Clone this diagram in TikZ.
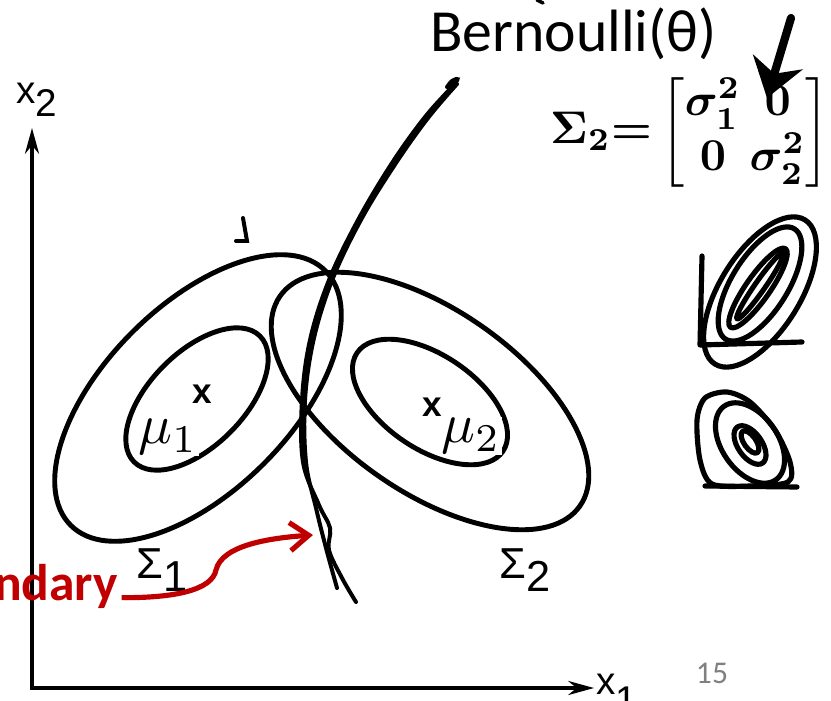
\documentclass[tikz,border=0pt]{standalone}
\usepackage{amsmath}
\usepackage{graphicx}
\usepackage{fontspec}
\setsansfont{Liberation Sans}
\newfontfamily\calibri{Carlito}
\usetikzlibrary{positioning, arrows.meta}
\definecolor{boundred}{HTML}{C00000}

\begin{document}
\begin{tikzpicture}[x=0.3mm, y=-0.3mm,
    contour/.style={line width=4.2pt},
    bound/.style={line width=3.4pt, line cap=round},
    doodle/.style={line width=4.4pt, line cap=round, line join=round},
    axis/.style={line width=2.8pt, -{Stealth[length=22pt, width=12pt]}},
    mean/.style={fill=white, inner sep=1pt},
    cross/.style={font=\fontsize{30}{30}\selectfont\sffamily\bfseries, inner sep=0pt},
    axlabel/.style={font=\fontsize{33}{33}\selectfont\sffamily, inner sep=0pt},
    covlabel/.style={font=\fontsize{37}{37}\selectfont\sffamily, inner sep=0pt}
]
\useasboundingbox (0,0) rectangle (831,700);

\coordinate (O) at (32,688);
\coordinate (xend) at (594,688);
\coordinate (yend) at (32,128);
\draw[axis] (O) -- (xend);
\draw[axis] ([yshift=-1.4pt]O) -- (yend);
\node[axlabel, anchor=base west] (xone) at (596,694) {x\raisebox{-0.5em}{1}};
\node[axlabel, anchor=base west] (xtwo) at (16,104) {x\raisebox{-0.32em}{2}};

\draw[contour] (198,398) ellipse [x radius=54mm, y radius=27.9mm, rotate=45];
\draw[contour] (197,399) ellipse [x radius=26.7mm, y radius=14.1mm, rotate=45];
\draw[contour] (430,401) ellipse [x radius=54.9mm, y radius=27.3mm, rotate=-35];
\draw[contour] (430,402) ellipse [x radius=26.4mm, y radius=14.1mm, rotate=-34];

\node[cross] (c1) at (202,394) {x};
\node[cross] (c2) at (432,407) {x};
\node[mean] (mu1) at (168,437) {\scalebox{4.8}{$\mu_1$}};
\node[mean] (mu2) at (471,436) {\scalebox{4.8}{$\mu_2$}};
\node[covlabel, anchor=base west] (sig1) at (136,578) {Σ\raisebox{-0.3em}{1}};
\node[covlabel, anchor=base west] (sig2) at (499,578) {Σ\raisebox{-0.3em}{2}};

\draw[bound] plot[smooth, tension=0.6] coordinates {(457,84) (428,118) (396,163) (362,218) (333,278) (314,338) (305,400) (306,462) (316,508) (326,548) (337,588)};
\draw[bound] plot[smooth, tension=0.6] coordinates {(447,87) (452,81) (456,82) (425,117) (392,163) (358,220) (329,280) (310,340) (302,400) (303,462) (319,505) (330,528) (329,550) (342,578) (356,602)};
\draw[bound] (243,218) -- (247,241) -- (236,241);

\node[font=\calibri\bfseries\fontsize{44}{44}\selectfont, text=boundred, anchor=base east, inner sep=0pt] (bnd) at (118,600) {boundary};
\coordinate (hit) at (313,535);
\draw[boundred, line width=4.4pt, -{Straight Barb[length=16pt, width=24pt]}] ([xshift=3pt, yshift=2pt]bnd.base east) .. controls (175,598) and (212,590) .. (216,570) .. controls (222,545) and (270,538) .. (hit);

\node[font=\calibri\fontsize{51}{51}\selectfont, anchor=base west, inner sep=0pt] (bern) at (430,52) {Bernoulli(θ)};
\node[inner sep=0pt] (cov) at (690,132) {\scalebox{3.9}{\boldmath$\Sigma_2{=}\left[\begin{array}{@{}c@{\,}c@{}}\sigma_1^2 & 0\\ 0 & \sigma_2^2\end{array}\right]$}};
\coordinate (scrib) at (791,18);
\coordinate (zero) at (767,98);
\draw[line width=7pt, line cap=round, -{Stealth[length=32pt, width=44pt]}] (scrib) -- (zero);
\draw[line width=3pt, line cap=round] (537,0) -- (543,3);

\draw[doodle] (702,256) -- (700,345) -- (802,342);
\draw[doodle] (760,292) ellipse [x radius=25.5mm, y radius=12mm, rotate=58];
\draw[doodle] (760,284) ellipse [x radius=19.5mm, y radius=8.4mm, rotate=58];
\draw[doodle] (758,288) ellipse [x radius=14.4mm, y radius=3.6mm, rotate=55];
\draw[doodle] (760,286) ellipse [x radius=12mm, y radius=1.5mm, rotate=55];

\draw[doodle] plot[smooth cycle] coordinates {(705,398) (727,392) (750,402) (775,430) (790,462) (788,482) (750,486) (712,484) (700,460) (697,420)};
\draw[doodle] (705,486) -- (797,487);
\draw[doodle] (750,443) ellipse [x radius=13.5mm, y radius=8.4mm, rotate=-55];
\draw[doodle] (750,445) ellipse [x radius=6.6mm, y radius=3.6mm, rotate=-55];
\draw[doodle] (750,442) ellipse [x radius=3.9mm, y radius=1.8mm, rotate=-55];

\node[font=\calibri\fontsize{27}{27}\selectfont, text=black!50] (pg) at (712,673) {15};
\end{tikzpicture}
\end{document}
